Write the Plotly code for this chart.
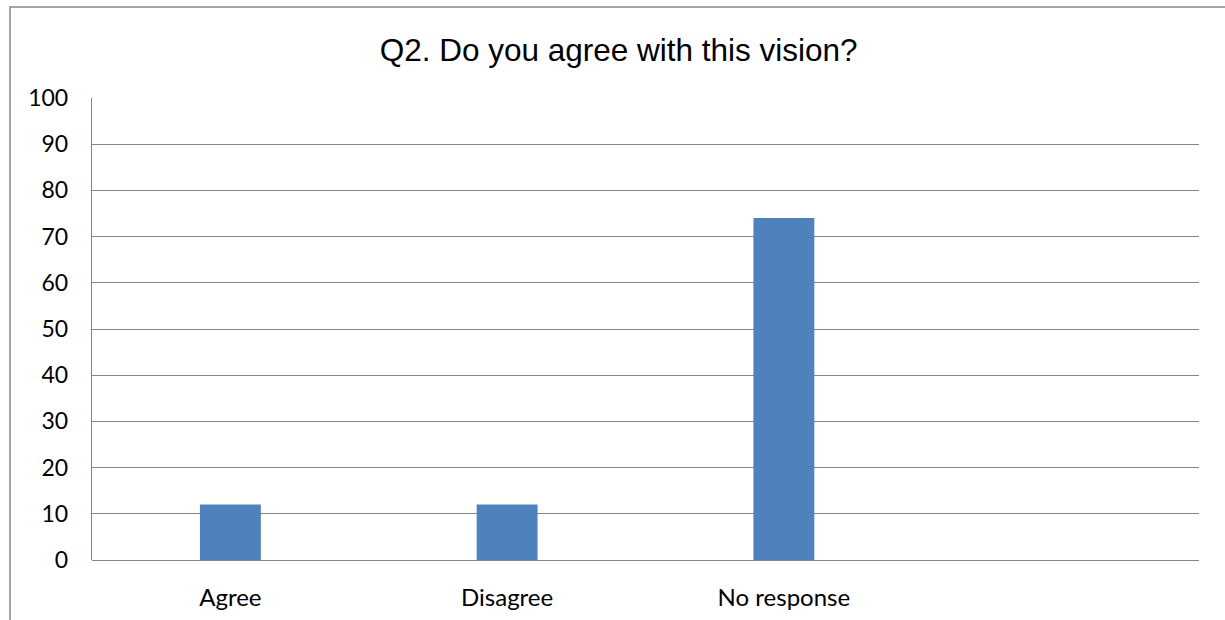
import plotly.graph_objects as go

categories = ["Agree", "Disagree", "No response", " "]
values = [12, 12, 74, None]
y_ticks = [0, 10, 20, 30, 40, 50, 60, 70, 80, 90, 100]
title_text = "Q2. Do you agree with this vision?"

W, H = 1225, 620
L, R, T, B = 92, 26, 98, 60
pw, ph = W - L - R, H - T - B

fig = go.Figure()
fig.add_trace(go.Bar(
    x=categories, y=values,
    marker=dict(color="#4F81BD", line=dict(width=0)),
    width=0.22,
))

def px_to_paper_x(px):
    return (px - L) / pw

def px_to_paper_y(py):
    return (H - B - py) / ph

fig.add_shape(type="rect", xref="paper", yref="paper",
              x0=px_to_paper_x(10), x1=px_to_paper_x(1260),
              y0=px_to_paper_y(700), y1=px_to_paper_y(7),
              line=dict(color="#878787", width=1.5), fillcolor="rgba(0,0,0,0)",
              layer="below")

fig.update_layout(
    width=W, height=H,
    margin=dict(l=L, r=R, t=T, b=B, pad=0, autoexpand=False),
    paper_bgcolor="white", plot_bgcolor="white",
    showlegend=False,
    title=dict(text=title_text, x=0.505, xref="container", xanchor="center",
               y=1 - 50 / H, yref="container", yanchor="middle",
               font=dict(family="Liberation Sans, Arial", size=31.5, color="black")),
    font=dict(family="Lato, Open Sans", size=24, color="black"),
    bargap=0.78,
)
fig.update_xaxes(
    type="category", categoryorder="array", categoryarray=categories,
    showgrid=False, showline=False, ticks="", zeroline=False, automargin=False,
    ticklabelstandoff=21, tickfont=dict(family="Lato", size=24, color="black"),
    range=[-0.5, 3.5],
)
fig.update_yaxes(
    range=[0, 100], tickvals=y_ticks, showgrid=True, gridcolor="#858585", gridwidth=1.4,
    zeroline=True, zerolinecolor="#858585", zerolinewidth=1.4, automargin=False,
    showline=True, linecolor="#858585", linewidth=1.4, ticks="",
    ticklabelstandoff=18, tickfont=dict(family="Lato", size=23, color="black"),
)

fig.write_html("out.html", config={"displayModeBar": False},
               post_script="document.body.style.margin='0px';document.body.style.overflow='hidden';")
